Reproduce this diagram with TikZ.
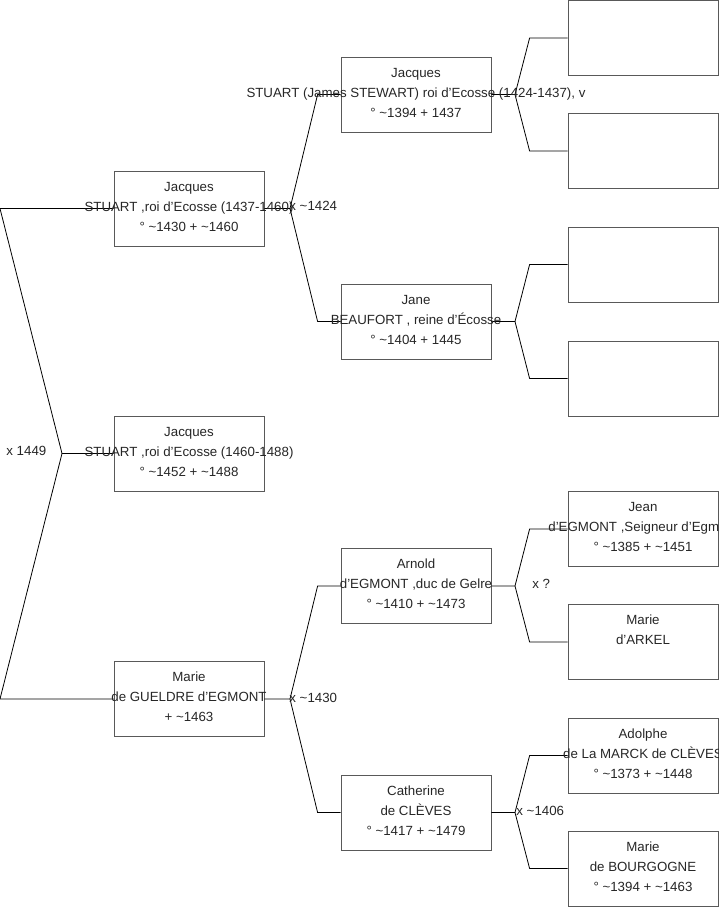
\documentclass[tikz,border=0pt]{standalone}
\usepackage{fontspec}
\setmainfont{Liberation Sans}
\usetikzlibrary{positioning}
\newcommand{\circa}{\textasciitilde}

\begin{document}
\begin{tikzpicture}[x=1pt, y=-1pt, line width=0.8pt,
    person/.style={draw=black!65, minimum width=150pt, minimum height=75pt, inner sep=0pt},
    names/.style={align=center, inner sep=0pt, text=black!85, font=\fontsize{13.3}{20}\selectfont},
    wed/.style={anchor=west, inner sep=0pt, text=black!85, font=\fontsize{13.3}{15}\selectfont}]
    \useasboundingbox (0,0) rectangle (719,908);
    \clip (0,0) rectangle (719,908);

    % Boxes
    \node[person] (j1) at (189,208.5) {};
    \node[person] (j2) at (189,453.5) {};
    \node[person] (mg) at (189,699) {};
    \node[person] (j0) at (416,94.5) {};
    \node[person] (jb) at (416,321.5) {};
    \node[person] (ar) at (416,586) {};
    \node[person] (ca) at (416,812.5) {};
    \node[person] (e1) at (643,38) {};
    \node[person] (e2) at (643,151) {};
    \node[person] (e3) at (643,264.5) {};
    \node[person] (e4) at (643,378.5) {};
    \node[person] (je) at (643,529) {};
    \node[person] (ma) at (643,642) {};
    \node[person] (ad) at (643,755.5) {};
    \node[person] (mb) at (643,868.5) {};

    % Fork points
    \coordinate (k0) at (62,453.5);
    \coordinate (k0a) at (0,208.5);
    \coordinate (k0b) at (0,699);
    \coordinate (k1) at (290,208.5);
    \coordinate (k2) at (290,699);
    \coordinate (k3) at (515,94.5);
    \coordinate (k4) at (515,321.5);
    \coordinate (k5) at (515,586);
    \coordinate (k6) at (515,812.5);

    \draw (j2.west) -- (k0) -- (k0a) -- (j1.west);
    \draw (k0) -- (k0b) -- (mg.west);
    \draw (j1.east) -- (k1) -- ([xshift=-23pt]j0.west) -- (j0.west);
    \draw (k1) -- ([xshift=-23pt]jb.west) -- (jb.west);
    \draw (mg.east) -- (k2) -- ([xshift=-23pt]ar.west) -- (ar.west);
    \draw (k2) -- ([xshift=-23pt]ca.west) -- (ca.west);
    \draw (j0.east) -- (k3) -- ([xshift=-38pt]e1.west) -- (e1.west);
    \draw (k3) -- ([xshift=-38pt]e2.west) -- (e2.west);
    \draw (jb.east) -- (k4) -- ([xshift=-38pt]e3.west) -- (e3.west);
    \draw (k4) -- ([xshift=-38pt]e4.west) -- (e4.west);
    \draw (ar.east) -- (k5) -- ([xshift=-38pt]je.west) -- (je.west);
    \draw (k5) -- ([xshift=-38pt]ma.west) -- (ma.west);
    \draw (ca.east) -- (k6) -- ([xshift=-38pt]ad.west) -- (ad.west);
    \draw (k6) -- ([xshift=-38pt]mb.west) -- (mb.west);

    % Names
    \node[names] (j1n) at ([yshift=2pt]j1.center) {Jacques\\STUART ,roi d'Ecosse (1437-1460)\\° \circa1430 + \circa1460};
    \node[names] (j2n) at ([yshift=2pt]j2.center) {Jacques\\STUART ,roi d'Ecosse (1460-1488)\\° \circa1452 + \circa1488};
    \node[names] (mgn) at ([yshift=2pt]mg.center) {Marie\\de GUELDRE d'EGMONT\\+ \circa1463};
    \node[names] (j0n) at ([yshift=2pt]j0.center) {Jacques\\STUART (James STEWART) roi d'Ecosse (1424-1437), v\\° \circa1394 + 1437};
    \node[names] (jbn) at ([yshift=2pt]jb.center) {Jane\\BEAUFORT , reine d'Écosse\\° \circa1404 + 1445};
    \node[names] (arn) at ([yshift=2pt]ar.center) {Arnold\\d'EGMONT ,duc de Gelre\\° \circa1410 + \circa1473};
    \node[names] (can) at ([yshift=2pt]ca.center) {Catherine\\de CLÈVES\\° \circa1417 + \circa1479};
    \node[names] (jen) at ([yshift=2pt]je.center) {Jean\\d'EGMONT ,Seigneur d'Egmont\\° \circa1385 + \circa1451};
    \node[names] (man) at ([yshift=2pt]ma.center) {Marie\\d'ARKEL\\\mbox{}};
    \node[names] (adn) at ([yshift=2pt]ad.center) {Adolphe\\de La MARCK de CLÈVES\\° \circa1373 + \circa1448};
    \node[names] (mbn) at ([yshift=2pt]mb.center) {Marie\\de BOURGOGNE\\° \circa1394 + \circa1463};

    % Marriages
    \node[wed] (w0) at (6,451) {x 1449};
    \node[wed] (w1) at (289,206) {x \circa1424};
    \node[wed] (w2) at (289,698) {x \circa1430};
    \node[wed] (w3) at (532,584) {x ?};
    \node[wed] (w4) at (516,811) {x \circa1406};
\end{tikzpicture}
\end{document}
